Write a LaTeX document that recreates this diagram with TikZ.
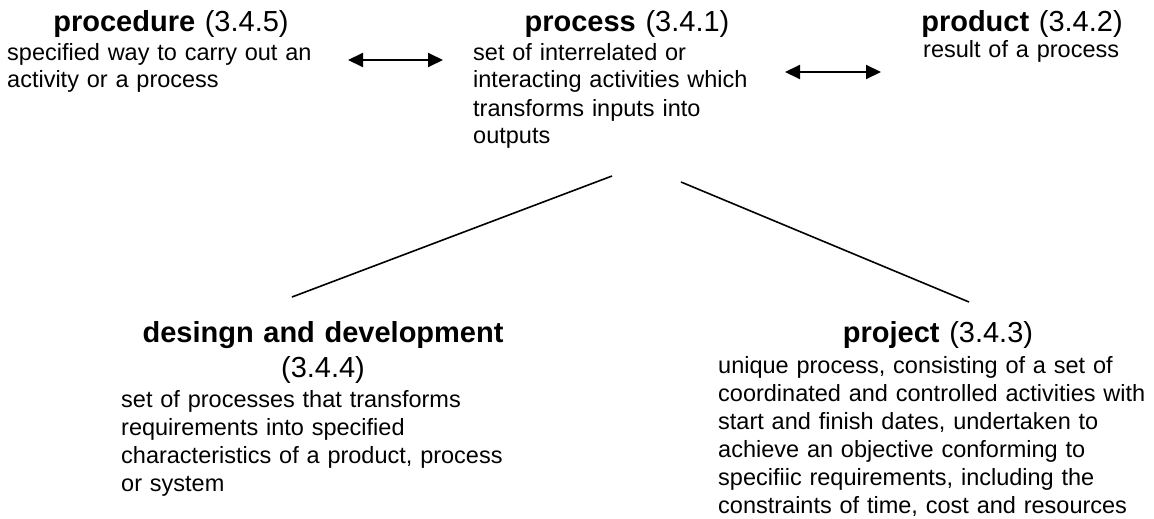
\documentclass[tikz,border=0pt]{standalone}
\usepackage{fontspec}
\setmainfont{Liberation Sans}
\usetikzlibrary{arrows.meta}
\begin{document}
\begin{tikzpicture}[x=1pt,y=-1pt,
  term/.style={anchor=base,inner sep=0pt,text width=440pt,align=center,
    font=\fontsize{29}{35}\selectfont},
  defn/.style={anchor=base west,inner sep=0pt,text width=440pt,align=left,
    font=\fontsize{23.5}{28}\selectfont},
  tip/.tip={Triangle[length=15pt,width=14pt]},
  link/.style={line width=2pt,tip-tip},
  branch/.style={line width=1.6pt}]
\useasboundingbox (0,0) rectangle (1154,519);
% Top row of terms
\node[term] (procedure-term) at (171,32) {\textbf{procedure} (3.4.5)};
\node[defn] (procedure-def) at (7,60) {specified way to carry out an\\activity or a process};
\node[term] (process-term) at (627,32) {\textbf{process} (3.4.1)};
\node[defn] (process-def) at (473,60) {set of interrelated or\\interacting activities which\\transforms inputs into\\outputs};
\node[term] (product-term) at (1022,32) {\textbf{product} (3.4.2)};
\node[defn] (product-def) at (923,58) {result of a process};
% Arrows between the top terms
\coordinate (procedure-end) at (348,60);
\coordinate (process-left) at (443,60);
\coordinate (process-right) at (785,72);
\coordinate (product-end) at (881,72);
\draw[link] (procedure-end) -- (process-left);
\draw[link] (process-right) -- (product-end);
% Bottom row of terms
\node[term] (design-term) at (323,342) {\textbf{desingn and development}\\(3.4.4)};
\node[defn] (design-def) at (121,407) {set of processes that transforms\\requirements into specified\\characteristics of a product, process\\or system};
\node[term] (project-term) at (938,342) {\textbf{project} (3.4.3)};
\node[defn] (project-def) at (718,373) {unique process, consisting of a set of\\coordinated and controlled activities with\\start and finish dates, undertaken to\\achieve an objective conforming to\\specifiic requirements, including the\\constraints of time, cost and resources};
% Lines from process down to the two kinds
\coordinate (process-foot-l) at (612,176);
\coordinate (design-top) at (292,297);
\coordinate (process-foot-r) at (681,182);
\coordinate (project-top) at (969,302);
\draw[branch] (process-foot-l) -- (design-top);
\draw[branch] (process-foot-r) -- (project-top);
\end{tikzpicture}
\end{document}
